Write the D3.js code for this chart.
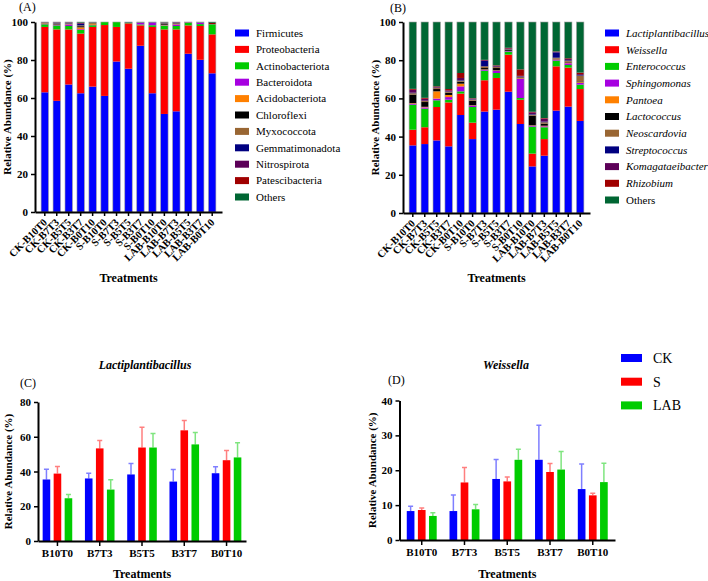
<!DOCTYPE html>
<html lang="en">
<head>
<meta charset="UTF-8">
<title>Relative Abundance</title>
<script src="https://d3js.org/d3.v7.min.js"></script>
<style>
  body { margin: 0; background: #fff; }
  svg { display: block; font-family: "Liberation Serif", "DejaVu Serif", serif; }
</style>
</head>
<body>
<svg width="708" height="581"></svg>

<script>
// ---- data ----
const samples = ["CK-B10T0", "CK-B7T3", "CK-B5T5", "CK-B3T7", "CK-B0T10",
                 "S-B10T0", "S-B7T3", "S-B5T5", "S-B3T7", "S-B0T10",
                 "LAB-B10T0", "LAB-B7T3", "LAB-B5T5", "LAB-B3T7", "LAB-B0T10"];

// (A) phylum level
const phyla = ["Firmicutes", "Proteobacteria", "Actinobacteriota", "Bacteroidota", "Acidobacteriota",
               "Chloroflexi", "Myxococcota", "Gemmatimonadota", "Nitrospirota", "Patescibacteria", "Others"];
const firmicutes       = [63, 58.5, 67.1, 62.5, 66, 61.1, 79.2, 75.4, 87.5, 62.5, 51.6, 53, 83.3, 80.1, 73];
const proteobacteria   = [34.4, 37.6, 29, 31.4, 31.4, 37.3, 18.2, 23.9, 10.7, 34.9, 44.5, 43.1, 14.9, 17.8, 20.5];
const actinobacteriota = [1.4, 2.1, 1.8, 1.9, 0.9, 1.6, 2.6, 0.2, 0.5, 0.9, 2.0, 1.8, 1.4, 1.0, 5.3];
const bacteroidota     = [0.2, 0.3, 0.8, 0.4, 0.2, 0, 0, 0, 1.0, 1.5, 0.2, 0.8, 0.1, 0.8, 0.1];
const acidobacteriota  = [0.2, 0.2, 0.2, 1.0, 0.4, 0, 0, 0, 0, 0, 0.2, 0.2, 0, 0, 0];
const chloroflexi      = [0.1, 0.4, 0.2, 0.6, 0.1, 0, 0, 0, 0, 0, 0.4, 0.3, 0, 0, 0];
const myxococcota      = [0.3, 0.2, 0.2, 0.4, 0.5, 0, 0, 0, 0.1, 0, 0.4, 0.2, 0.1, 0.1, 0];
const gemmatimonadota  = [0.1, 0.3, 0.3, 0.8, 0.1, 0, 0, 0.2, 0, 0, 0.2, 0.3, 0.1, 0.1, 0];
const nitrospirota     = [0.1, 0.2, 0.2, 0.4, 0.1, 0, 0, 0, 0, 0, 0.2, 0.2, 0, 0, 0];
const patescibacteria  = [0.1, 0.1, 0.1, 0.2, 0.1, 0, 0, 0, 0, 0, 0.1, 0.1, 0.1, 0, 0.6];
const phylaOthers      = [0.1, 0.1, 0.1, 0.4, 0.2, 0, 0, 0.3, 0.2, 0.2, 0.2, 0, 0, 0.1, 0.5];

// (B) genus level
const genera = ["Lactiplantibacillus", "Weissella", "Enterococcus", "Sphingomonas", "Pantoea",
                "Lactococcus", "Neoscardovia", "Streptococcus", "Komagataeibacter", "Rhizobium", "Others"];
const lactiplantibacillus = [35.4, 36.1, 38.0, 34.9, 51.3, 38.7, 53.1, 54.1, 63.5, 46.6, 24.4, 30, 53.6, 55.7, 48.2];
const weissella           = [8.2, 8.8, 17.5, 23, 11.2, 8.6, 16.4, 16.6, 19.4, 12.7, 6.7, 8.7, 23.2, 20.4, 16.7];
const enterococcus        = [13.1, 9.7, 3.5, 1.4, 1.2, 8.2, 5, 2.6, 1.6, 0.9, 14.1, 6.2, 3, 1.4, 2.3];
const sphingomonas        = [0.5, 0.7, 0.9, 1.4, 2.6, 0.7, 0.5, 1.2, 0.3, 10.1, 0.5, 0.5, 0.5, 0.9, 0.9];
const pantoea             = [0.3, 0.3, 3.8, 1.1, 1.4, 0.2, 0.2, 0.2, 0.1, 0.3, 0.2, 0.3, 0.2, 0.4, 0.4];
const lactococcus         = [4.5, 2.5, 1.2, 1.2, 1.1, 2.4, 0.7, 1.2, 0.6, 0.4, 5.1, 1.1, 0.3, 0.4, 0.4];
const neoscardovia        = [0.7, 0.5, 0.5, 0.4, 0.5, 0.5, 0.9, 0.5, 0.2, 0.3, 0.5, 0.7, 0.5, 0.5, 3];
const streptococcus       = [0.3, 0.2, 0.2, 0.2, 0.3, 0.2, 2.8, 0.2, 0.1, 0.2, 0.3, 0.4, 2.8, 0.3, 0.3];
const komagataeibacter    = [1.5, 1.0, 0.3, 0.6, 1.1, 0.4, 0.4, 0.4, 0.4, 0.3, 0.9, 1.5, 0.3, 0.6, 0.5];
const rhizobium           = [0.5, 0.5, 0.4, 0.7, 2.6, 0.2, 0.2, 0.3, 0.3, 3.4, 0.3, 0.3, 0.2, 0.4, 0.8];
const generaOthers        = [35, 39.7, 33.7, 35.1, 26.7, 39.9, 19.8, 22.7, 13.5, 24.8, 47, 50.3, 15.4, 19, 26.5];

const stackColors = ["#0000ff", "#ff0000", "#00cc00", "#a600e0", "#ff8000",
                     "#000000", "#996633", "#000080", "#5c0058", "#a00000", "#006633"];

// (C) Lactiplantibacillus and (D) Weissella by treatment
const treatments = ["B10T0", "B7T3", "B5T5", "B3T7", "B0T10"];
const groups = ["CK", "S", "LAB"];
const groupColors = ["#0000ff", "#ff0000", "#00cc00"];

const lactiCK  = [35.4, 36, 38.3, 34.2, 39];
const lactiS   = [38.8, 53.3, 53.8, 63.7, 46.5];
const lactiLAB = [24.6, 29.6, 53.8, 55.6, 48.1];
const lactiCKErr  = [5.9, 3.0, 6.3, 7.0, 3.7];
const lactiSErr   = [4.1, 4.6, 11.6, 5.7, 5.6];
const lactiLABErr = [2.1, 5.6, 8.1, 6.9, 8.4];

const weisCK  = [8.3, 8.3, 17.5, 23, 14.6];
const weisS   = [8.6, 16.5, 16.8, 19.5, 12.8];
const weisLAB = [6.9, 8.8, 23, 20.2, 16.6];
const weisCKErr  = [1.4, 4.6, 5.6, 9.9, 7.2];
const weisSErr   = [0.6, 4.3, 1.3, 2.4, 0.6];
const weisLABErr = [0.9, 1.4, 3.0, 5.2, 5.4];

const svg = d3.select("svg");

function styleAxis(g) {
  g.select(".domain").attr("stroke", "#000").attr("stroke-width", 2);
  g.selectAll(".tick line").attr("stroke", "#000").attr("stroke-width", 1.5);
  g.selectAll(".tick text").attr("fill", "#000").attr("font-weight", "bold")
    .attr("font-size", 11).attr("font-family", "Liberation Serif, DejaVu Serif, serif");
}

function axisTitle(x, y, text, rotate) {
  svg.append("text")
    .attr("transform", `translate(${x},${y})` + (rotate ? " rotate(-90)" : ""))
    .attr("text-anchor", "middle")
    .attr("font-weight", "bold")
    .attr("font-size", rotate ? 11 : 12)
    .text(text);
}

function stackPanel(cfg) {
  const x = d3.scaleBand().domain(samples).range([cfg.left, cfg.right])
    .paddingInner(0.38).paddingOuter(0.51);
  const y = d3.scaleLinear().domain([0, 100]).range([cfg.bottom, cfg.top]);

  const rows = samples.map((s, i) => {
    const r = { sample: s };
    cfg.keys.forEach((k, j) => r[k] = cfg.values[j][i]);
    return r;
  });
  const series = d3.stack().keys(cfg.keys)(rows);

  const g = svg.append("g");
  g.selectAll("g.layer")
    .data(series)
    .join("g")
    .attr("class", "layer")
    .attr("fill", (d, i) => stackColors[i])
    .selectAll("rect")
    .data(d => d)
    .join("rect")
    .attr("x", d => x(d.data.sample))
    .attr("width", x.bandwidth())
    .attr("y", d => y(d[1]))
    .attr("height", d => y(d[0]) - y(d[1]));

  // light grey outline round every bar
  g.selectAll("rect.outline")
    .data(rows)
    .join("rect")
    .attr("class", "outline")
    .attr("x", d => x(d.sample))
    .attr("width", x.bandwidth())
    .attr("y", d => y(d3.sum(cfg.keys, k => d[k])))
    .attr("height", d => y(0) - y(d3.sum(cfg.keys, k => d[k])))
    .attr("fill", "none")
    .attr("stroke", "#a0a0a0")
    .attr("stroke-width", 0.6);

  svg.append("g")
    .attr("transform", `translate(${cfg.left},0)`)
    .call(d3.axisLeft(y).tickValues([0, 20, 40, 60, 80, 100]).tickSize(4).tickSizeOuter(0))
    .call(styleAxis);

  svg.append("g")
    .attr("transform", `translate(0,${cfg.bottom})`)
    .call(d3.axisBottom(x).tickSize(4).tickSizeOuter(0))
    .call(styleAxis)
    .call(a => a.selectAll(".tick text")
      .attr("y", 0).attr("dy", 0)
      .attr("font-size", 10.5)
      .attr("text-anchor", "end")
      .attr("transform", "translate(3,11) rotate(-45)"));

  // legend
  const lg = svg.append("g").attr("transform", `translate(${cfg.legendX},${cfg.legendY})`);
  const item = lg.selectAll("g")
    .data(cfg.keys)
    .join("g")
    .attr("transform", (d, i) => `translate(0,${i * cfg.legendStep})`);
  item.append("rect")
    .attr("x", 0).attr("y", -3.5)
    .attr("width", 14).attr("height", 7)
    .attr("fill", (d, i) => stackColors[i]);
  item.append("text")
    .attr("x", 21).attr("dy", "0.35em")
    .attr("font-size", 11)
    .attr("font-style", d => cfg.italic && d !== "Others" ? "italic" : "normal")
    .text(d => d);

  svg.append("text").attr("x", cfg.tagX).attr("y", cfg.tagY)
    .attr("font-size", 12).text(cfg.tag);
  axisTitle(cfg.ylabelX, (cfg.top + cfg.bottom) / 2, "Relative Abundance (%)", true);
  axisTitle((cfg.left + cfg.right) / 2, 282, "Treatments", false);
}

function groupPanel(cfg) {
  const x = d3.scaleBand().domain(treatments).range([cfg.left, cfg.right])
    .paddingInner(0.3).paddingOuter(cfg.outer);
  const xg = d3.scaleBand().domain(groups).range([0, x.bandwidth()]).paddingInner(0.31);
  const y = d3.scaleLinear().domain([0, cfg.ymax]).range([cfg.bottom, cfg.top]);

  const rows = [];
  groups.forEach((grp, j) => {
    treatments.forEach((t, i) => {
      rows.push({ t: t, grp: grp, j: j, v: cfg.means[j][i], e: cfg.errs[j][i] });
    });
  });

  const g = svg.append("g");
  const cx = d => x(d.t) + xg(d.grp) + xg.bandwidth() / 2;

  // error bars (upper only), drawn in a pale version of the bar colour
  g.selectAll("path.err")
    .data(rows)
    .join("path")
    .attr("class", "err")
    .attr("d", d => `M${cx(d)},${y(d.v)}V${y(d.v + d.e)}M${cx(d) - 2.5},${y(d.v + d.e)}H${cx(d) + 2.5}`)
    .attr("stroke", d => groupColors[d.j])
    .attr("stroke-opacity", 0.5)
    .attr("stroke-width", 1.5)
    .attr("fill", "none");

  g.selectAll("rect.bar")
    .data(rows)
    .join("rect")
    .attr("class", "bar")
    .attr("x", d => x(d.t) + xg(d.grp))
    .attr("width", xg.bandwidth())
    .attr("y", d => y(d.v))
    .attr("height", d => y(0) - y(d.v))
    .attr("fill", d => groupColors[d.j]);

  svg.append("g")
    .attr("transform", `translate(${cfg.left},0)`)
    .call(d3.axisLeft(y).tickValues(cfg.ticks).tickSize(4).tickSizeOuter(0))
    .call(styleAxis);

  svg.append("g")
    .attr("transform", `translate(0,${cfg.bottom})`)
    .call(d3.axisBottom(x).tickSize(5).tickSizeOuter(0))
    .call(styleAxis);

  svg.append("text")
    .attr("x", cfg.titleX).attr("y", 369)
    .attr("text-anchor", "middle")
    .attr("font-weight", "bold").attr("font-style", "italic")
    .attr("font-size", 12)
    .text(cfg.title);
  svg.append("text").attr("x", cfg.tagX).attr("y", cfg.tagY)
    .attr("font-size", 12).text(cfg.tag);
  axisTitle(cfg.ylabelX, (cfg.top + cfg.bottom) / 2, "Relative Abundance (%)", true);
  axisTitle((cfg.left + cfg.right) / 2, 578, "Treatments", false);
}

stackPanel({
  keys: phyla,
  values: [firmicutes, proteobacteria, actinobacteriota, bacteroidota, acidobacteriota,
           chloroflexi, myxococcota, gemmatimonadota, nitrospirota, patescibacteria, phylaOthers],
  left: 35, right: 222, top: 22, bottom: 212,
  legendX: 235, legendY: 33, legendStep: 16.4, italic: false,
  tag: "(A)", tagX: 19, tagY: 11, ylabelX: 11
});

stackPanel({
  keys: genera,
  values: [lactiplantibacillus, weissella, enterococcus, sphingomonas, pantoea,
           lactococcus, neoscardovia, streptococcus, komagataeibacter, rhizobium, generaOthers],
  left: 403, right: 590, top: 22, bottom: 213,
  legendX: 605, legendY: 33, legendStep: 16.7, italic: true,
  tag: "(B)", tagX: 390, tagY: 12, ylabelX: 379
});

groupPanel({
  means: [lactiCK, lactiS, lactiLAB],
  errs: [lactiCKErr, lactiSErr, lactiLABErr],
  ymax: 80, ticks: [0, 20, 40, 60, 80],
  left: 38, right: 246, top: 402, bottom: 541, outer: 0.11,
  title: "Lactiplantibacillus", titleX: 145,
  tag: "(C)", tagX: 20, tagY: 387, ylabelX: 12
});

groupPanel({
  means: [weisCK, weisS, weisLAB],
  errs: [weisCKErr, weisSErr, weisLABErr],
  ymax: 40, ticks: [0, 10, 20, 30, 40],
  left: 399.5, right: 615, top: 400.5, bottom: 540, outer: 0.17,
  title: "Weissella", titleX: 506,
  tag: "(D)", tagX: 388, tagY: 384, ylabelX: 376
});

// shared legend for C and D
const groupLegend = svg.append("g").attr("transform", "translate(621,358)");
const gItem = groupLegend.selectAll("g")
  .data(groups)
  .join("g")
  .attr("transform", (d, i) => `translate(0,${i * 23.7})`);
gItem.append("rect")
  .attr("x", 0).attr("y", -4)
  .attr("width", 21).attr("height", 8)
  .attr("fill", (d, i) => groupColors[i]);
gItem.append("text")
  .attr("x", 32).attr("dy", "0.35em")
  .attr("font-size", 14)
  .text(d => d);
</script>
</body>
</html>
